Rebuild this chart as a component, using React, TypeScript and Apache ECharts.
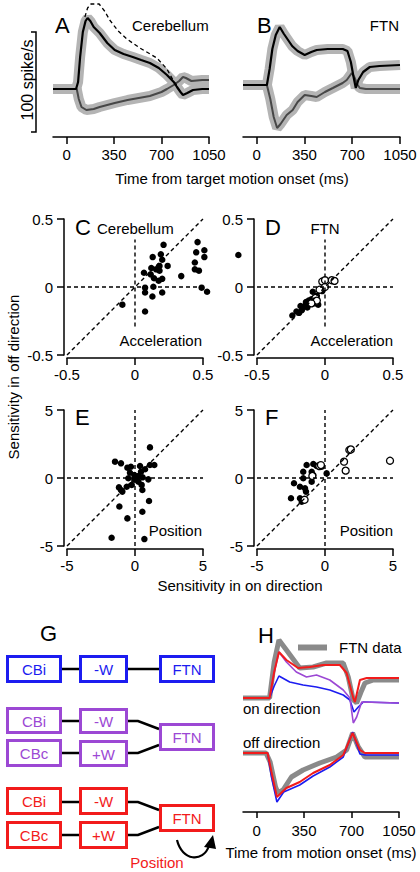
import React, { useEffect, useRef } from "react";
import * as echarts from "echarts";

const FONT = "'Liberation Sans', Arial, Helvetica, sans-serif";

// ---------- Panel A / B: firing rate traces [time (ms), spikes/s] ----------
const timeTicks = [0, 350, 700, 1050];
const cbOnTrace = [[-100,48],[0,48],[70,48],[85,55],[100,80],[120,105],[140,116],[155,119],[175,116],[200,110],[244,104],[300,94],[355,87],[420,83],[488,80],[550,77],[614,74],[680,69],[740,62],[790,55],[814,50],[840,45],[858,42],[890,44],[932,47],[1000,48],[1050,48]];
const cbOffTrace = [[-100,48],[0,48],[75,48],[90,38],[110,30],[146,27],[200,28],[244,30],[355,34],[450,37],[614,41],[700,45],[740,48],[790,52],[830,56],[858,60],[880,59],[920,56],[1000,57],[1050,57]];
const cbScaledTrace = [[135,120],[155,129],[180,133],[240,133],[280,126],[318,117],[380,106],[444,98],[540,89],[666,79],[740,68],[784,57],[821,50]];
const ftnOnTrace = [[-100,52],[0,52],[75,52],[95,68],[115,88],[140,102],[169,110],[200,103],[260,91],[300,86],[352,82],[400,85],[440,87],[520,88],[631,88],[665,86],[690,75],[710,60],[726,49],[745,57],[780,65],[829,70],[900,71],[1050,72]];
const ftnOffTrace = [[-100,52],[0,52],[75,52],[100,38],[125,20],[150,9],[175,13],[220,22],[264,27],[300,35],[352,42],[400,41],[440,40],[500,45],[558,49],[630,54],[660,57],[697,64],[715,60],[740,52],[756,49],[800,48],[900,48],[1050,48]];

// ---------- Panels C-F: sensitivities [on direction, off direction] ----------
const cbAccel = [[0.21,0.31],[0.13,0.22],[0.19,0.24],[0.20,0.20],[0.24,0.155],[0.12,0.14],[0.155,0.13],[0.18,0.155],[0.18,0.12],[0.066,0.105],[0.115,0.093],[0.14,0.064],[0.174,0.046],[0.20,0.06],[0.34,0.08],[0.074,-0.005],[0.135,0.002],[0.074,-0.04],[0.20,-0.04],[0.128,-0.07],[-0.093,-0.13],[0.074,-0.18],[0.46,0.33],[0.45,0.255],[0.51,0.27],[0.51,0.22],[0.44,0.18],[0.44,0.13],[0.47,0.12],[0.49,-0.005],[0.53,-0.035],[0.76,0.235]];
const ftnAccelFilled = [[-0.24,-0.21],[-0.21,-0.18],[-0.19,-0.19],[-0.18,-0.14],[-0.17,-0.17],[-0.15,-0.14],[-0.14,-0.11],[-0.12,-0.10],[-0.10,-0.09],[-0.09,-0.035],[-0.06,-0.065],[-0.05,-0.13],[-0.02,-0.03],[-0.08,-0.12],[-0.13,-0.15]];
const ftnAccelOpen = [[-0.02,0.04],[0.0,0.05],[0.05,0.05],[0.07,0.045],[0.0,0.0],[-0.07,-0.08],[-0.06,-0.1],[-0.1,-0.12],[-0.04,-0.02]];
const cbPos = [[1.1,2.25],[-1.47,1.2],[-1.03,1.08],[-0.3,0.83],[-0.56,0.76],[0.37,0.88],[1.1,0.96],[1.42,0.96],[0.74,0.64],[-0.37,0.39],[0.44,0.46],[0.25,0.15],[-0.05,-0.1],[-0.49,-0.02],[0.56,0.05],[0.98,-0.1],[0.25,-0.27],[-1.18,-0.69],[-0.61,-0.64],[-0.24,-0.51],[0.49,-0.51],[-0.93,-1.0],[-1.03,-0.88],[0.54,-0.88],[-1.15,-2.1],[1.03,-1.69],[-0.56,-2.97],[0.54,-2.48],[-1.72,-4.39],[0.69,-4.49],[-0.05,0.22]];
const ftnPosFilled = [[-1.35,0.96],[-1.6,0.46],[-0.86,1.03],[-0.61,0.88],[-0.24,0.83],[-0.98,0.46],[-0.86,0.22],[0.12,0.34],[-1.6,-0.02],[-0.98,-0.27],[-2.28,-0.39],[-1.84,-0.64],[-1.47,-0.76],[-1.4,-1.0],[-2.5,-1.49],[-1.84,-1.49],[-1.6,-1.62],[-1.71,-1.74]];
const ftnPosOpen = [[1.79,2.06],[1.9,2.1],[1.4,1.2],[1.52,0.54],[4.78,1.27],[-0.42,0.88],[-0.3,0.95],[-0.93,0.15],[-1.5,-1.6]];

const accLim = 0.5;
const posLim = 5;
const accRefH = [[-0.5,0],[0.5,0]];
const accRefDiag = [[-0.5,-0.5],[0.5,0.5]];
const accRefV = [[0,-0.29],[0,0.35]];
const posRefH = [[-5,0],[5,0]];
const posRefDiag = [[-5,-5],[5,5]];
const posRefV = [[0,-5],[0,5]];

// ---------- Panel H: model vs FTN data (display units, on & off stacked) ----------
const hOnData = [[-100,114],[60,114],[96,114],[130,150],[165,172],[220,162],[318,144],[417,145],[516,149],[639,149],[676,135],[713,112],[738,109],[770,120],[799,129],[861,132],[1050,132]];
const hOffData = [[-100,59],[70,59],[100,50],[140,25],[158,19],[195,22],[257,35],[343,42],[466,49],[590,55],[664,62],[708,79],[750,65],[799,55],[1050,55]];
const hOnRed = [[-100,114],[96,114],[130,140],[165,160],[220,152],[306,144],[392,145],[491,147],[614,147],[664,139],[713,114],[725,110],[762,132],[812,134],[1050,134]];
const hOnPurple = [[-100,114],[96,114],[130,140],[165,160],[220,150],[293,140],[368,135],[442,137],[540,132],[639,122],[688,114],[713,89],[738,95],[775,110],[1050,109]];
const hOnBlue = [[-100,114],[96,114],[130,126],[165,136],[244,130],[343,127],[442,125],[540,122],[639,117],[688,112],[718,100],[750,105],[787,110],[1050,109]];
const hOffRed = [[-100,59],[81,59],[110,40],[150,15],[220,24],[318,30],[417,39],[540,47],[639,57],[708,79],[762,62],[799,59],[1050,59]];
const hOffBlue = [[-100,59],[81,59],[110,35],[150,10],[200,20],[318,27],[417,36],[540,45],[639,55],[708,80],[762,58],[799,57],[1050,57]];

const BLUE = "#1c1cf0";
const PURPLE = "#9c48d4";
const RED = "#f21b1b";

const plain = (v: number) => String(v);

function timeAxis(gi: number, margin = 10, tickLen = 7) {
  return {
    type: "value", gridIndex: gi, min: -100, max: 1050,
    axisLine: { show: true, onZero: false, lineStyle: { color: "#000", width: 1.5 } },
    axisTick: { show: true, customValues: timeTicks, length: tickLen, lineStyle: { color: "#000", width: 1.5 } },
    axisLabel: { show: true, customValues: timeTicks, formatter: plain, margin, fontSize: 15, fontFamily: FONT, color: "#000" },
    splitLine: { show: false },
  };
}
function hiddenY(gi: number, max: number) {
  return { type: "value", gridIndex: gi, min: 0, max, show: false, splitLine: { show: false } };
}
function sensAxis(gi: number, lim: number, isY: boolean) {
  return {
    type: "value", gridIndex: gi, min: -lim, max: lim, interval: lim, offset: 3,
    axisLine: { show: true, onZero: false, lineStyle: { color: "#000", width: 1.5 } },
    axisTick: { show: true, length: 7, lineStyle: { color: "#000", width: 1.5 } },
    axisLabel: { margin: isY ? 11 : 9, formatter: plain, fontSize: 15, fontFamily: FONT, color: "#000" },
    splitLine: { show: false },
  };
}
function line(idx: number, data: number[][], color: string, width: number, extra: any = {}) {
  return {
    type: "line", xAxisIndex: idx, yAxisIndex: idx, data, symbol: "none", showSymbol: false,
    clip: false, silent: true, lineStyle: { color, width, ...(extra.lineStyle || {}) },
  };
}
function dashed(idx: number, data: number[][]) {
  return line(idx, data, "#000", 1.4, { lineStyle: { type: [4, 3] } });
}
function dots(idx: number, data: number[][], open: boolean) {
  return {
    type: "scatter", xAxisIndex: idx, yAxisIndex: idx, data, clip: false, silent: true,
    symbol: "circle", symbolSize: open ? 7 : 6.5,
    itemStyle: open ? { color: "#fff", borderColor: "#000", borderWidth: 1.3, opacity: 1 } : { color: "#000", opacity: 1 },
  };
}
function txt(x: number, y: number, text: string, opts: any = {}) {
  return {
    type: "text", x, y, rotation: opts.rotation || 0, silent: true,
    style: {
      text, fontSize: opts.size || 15, fontFamily: FONT, fill: opts.color || "#000",
      align: opts.align || "left", verticalAlign: "middle",
    },
  };
}
function box(x: number, y: number, w: number, h: number, color: string, label: string) {
  return [
    { type: "rect", shape: { x: x + 1.5, y: y + 1.5, width: w - 3, height: h - 3 }, style: { fill: "#fff", stroke: color, lineWidth: 3 }, z: 10 },
    { ...txt(x + w / 2, y + h / 2 + 0.5, label, { color, align: "center" }), z: 11 },
  ];
}
function wire(points: number[][]) {
  return { type: "polyline", shape: { points }, style: { stroke: "#000", lineWidth: 2.5, fill: "none" }, z: 5 };
}

export default function App() {
  const ref = useRef<HTMLDivElement>(null);
  useEffect(() => {
    if (!ref.current) return;
    const chart = echarts.init(ref.current, null, { renderer: "svg" });
    const option: any = {
      animation: false,
      backgroundColor: "#fff",
      textStyle: { fontFamily: FONT },
      grid: [
        { left: 53, top: 0, width: 156, height: 137 },
        { left: 243, top: 0, width: 157, height: 137 },
        { left: 67, top: 219, width: 136, height: 136 },
        { left: 257, top: 219, width: 136, height: 136 },
        { left: 67, top: 410, width: 136, height: 136 },
        { left: 257, top: 410, width: 136, height: 136 },
        { left: 243, top: 620, width: 156, height: 192 },
      ],
      xAxis: [
        timeAxis(0), timeAxis(1),
        sensAxis(2, accLim, false), sensAxis(3, accLim, false),
        sensAxis(4, posLim, false), sensAxis(5, posLim, false),
        timeAxis(6, 11, 6),
      ],
      yAxis: [
        hiddenY(0, 137), hiddenY(1, 137),
        sensAxis(2, accLim, true), sensAxis(3, accLim, true),
        sensAxis(4, posLim, true), sensAxis(5, posLim, true),
        hiddenY(6, 192),
      ],
      legend: {
        data: [{ name: "FTN data", icon: "rect" }], left: 298, top: 640, padding: 0,
        itemWidth: 29, itemHeight: 6, selectedMode: false,
        textStyle: { fontSize: 15, fontFamily: FONT, color: "#000", padding: [0, 0, 0, 7] },
      },
      series: [
        // A
        line(0, cbOnTrace, "#b4b4b4", 10),
        line(0, cbOffTrace, "#b4b4b4", 10),
        line(0, cbOffTrace, "#474747", 2),
        line(0, cbOnTrace, "#000", 2.2),
        line(0, cbScaledTrace, "#000", 1.3, { lineStyle: { type: [4, 3] } }),
        // B
        line(1, ftnOnTrace, "#b4b4b4", 10),
        line(1, ftnOffTrace, "#b4b4b4", 10),
        line(1, ftnOffTrace, "#474747", 2),
        line(1, ftnOnTrace, "#000", 2.2),
        // C
        dashed(2, accRefH), dashed(2, accRefDiag), dashed(2, accRefV),
        dots(2, cbAccel, false),
        // D
        dashed(3, accRefH), dashed(3, accRefDiag), dashed(3, accRefV),
        dots(3, ftnAccelFilled, false), dots(3, ftnAccelOpen, true),
        // E
        dashed(4, posRefH), dashed(4, posRefDiag), dashed(4, posRefV),
        dots(4, cbPos, false),
        // F
        dashed(5, posRefH), dashed(5, posRefDiag), dashed(5, posRefV),
        dots(5, ftnPosFilled, false), dots(5, ftnPosOpen, true),
        // H
        { ...line(6, hOnData, "#8a8a8a", 5), name: "FTN data", itemStyle: { color: "#8a8a8a" } },
        { ...line(6, hOffData, "#8a8a8a", 5), name: "FTN data", itemStyle: { color: "#8a8a8a" } },
        line(6, hOnBlue, BLUE, 1.6),
        line(6, hOffBlue, BLUE, 1.6),
        line(6, hOnPurple, PURPLE, 1.6),
        line(6, hOffRed, RED, 2),
        line(6, hOnRed, RED, 2),
      ],
      graphic: [
        // scale bar
        { type: "polyline", shape: { points: [[31, 32], [36, 32], [36, 132], [31, 132]] }, style: { stroke: "#000", lineWidth: 1.5, fill: "none" } },
        txt(27, 80, "100 spike/s", { rotation: Math.PI / 2, align: "center", size: 16 }),
        txt(55, 25, "A", { size: 22 }),
        txt(132, 25, "Cerebellum"),
        txt(257, 25, "B", { size: 22 }),
        txt(399, 25, "FTN", { align: "right" }),
        txt(232, 178, "Time from target motion onset (ms)", { align: "center" }),
        // C-F
        txt(75, 227, "C", { size: 22 }),
        txt(97, 228, "Cerebellum"),
        txt(202, 340, "Acceleration", { align: "right" }),
        txt(265, 227, "D", { size: 22 }),
        txt(325, 228, "FTN", { align: "center" }),
        txt(393, 340, "Acceleration", { align: "right" }),
        txt(75, 417, "E", { size: 22 }),
        txt(202, 530, "Position", { align: "right" }),
        txt(265, 417, "F", { size: 22 }),
        txt(393, 530, "Position", { align: "right" }),
        txt(13, 377, "Sensitivity in off direction", { rotation: Math.PI / 2, align: "center" }),
        txt(240, 585, "Sensitivity in on direction", { align: "center" }),
        // G
        txt(40, 633, "G", { size: 22 }),
        wire([[62, 669], [79, 669]]), wire([[128, 669], [159, 669]]),
        ...box(6, 655, 56, 28, BLUE, "CBi"),
        ...box(79, 655, 49, 28, BLUE, "-W"),
        ...box(159, 655, 56, 28, BLUE, "FTN"),
        wire([[62, 721], [79, 721]]), wire([[128, 721], [138, 721], [159, 729]]),
        wire([[62, 753], [79, 753]]), wire([[128, 753], [138, 753], [159, 745]]),
        ...box(6, 707, 56, 27, PURPLE, "CBi"),
        ...box(79, 708, 49, 26, PURPLE, "-W"),
        ...box(6, 739, 56, 28, PURPLE, "CBc"),
        ...box(79, 740, 49, 27, PURPLE, "+W"),
        ...box(159, 723, 56, 28, PURPLE, "FTN"),
        wire([[62, 802], [79, 802]]), wire([[128, 802], [138, 802], [159, 810]]),
        wire([[62, 835], [79, 835]]), wire([[128, 835], [138, 835], [159, 827]]),
        ...box(6, 787, 56, 28, RED, "CBi"),
        ...box(79, 787, 49, 28, RED, "-W"),
        ...box(6, 821, 56, 28, RED, "CBc"),
        ...box(79, 821, 49, 28, RED, "+W"),
        ...box(159, 804, 56, 28, RED, "FTN"),
        { type: "bezierCurve", shape: { x1: 177, y1: 840, cpx1: 182, cpy1: 861, cpx2: 203, cpy2: 863, x2: 209, y2: 846 }, style: { stroke: "#000", lineWidth: 2.2, fill: "none" } },
        { type: "polygon", shape: { points: [[213, 835], [204, 847], [216, 849]] }, style: { fill: "#000" } },
        txt(157, 862, "Position", { color: RED, align: "center" }),
        // H
        txt(258, 635, "H", { size: 22 }),
        txt(243, 708, "on direction"),
        txt(243, 742, "off direction"),
        txt(321, 852, "Time from motion onset (ms)", { align: "center" }),
      ],
    };
    chart.setOption(option);
    return () => chart.dispose();
  }, []);
  return <div ref={ref} style={{ position: "absolute", left: 0, top: 0, width: 420, height: 872, background: "#fff" }} />;
}
